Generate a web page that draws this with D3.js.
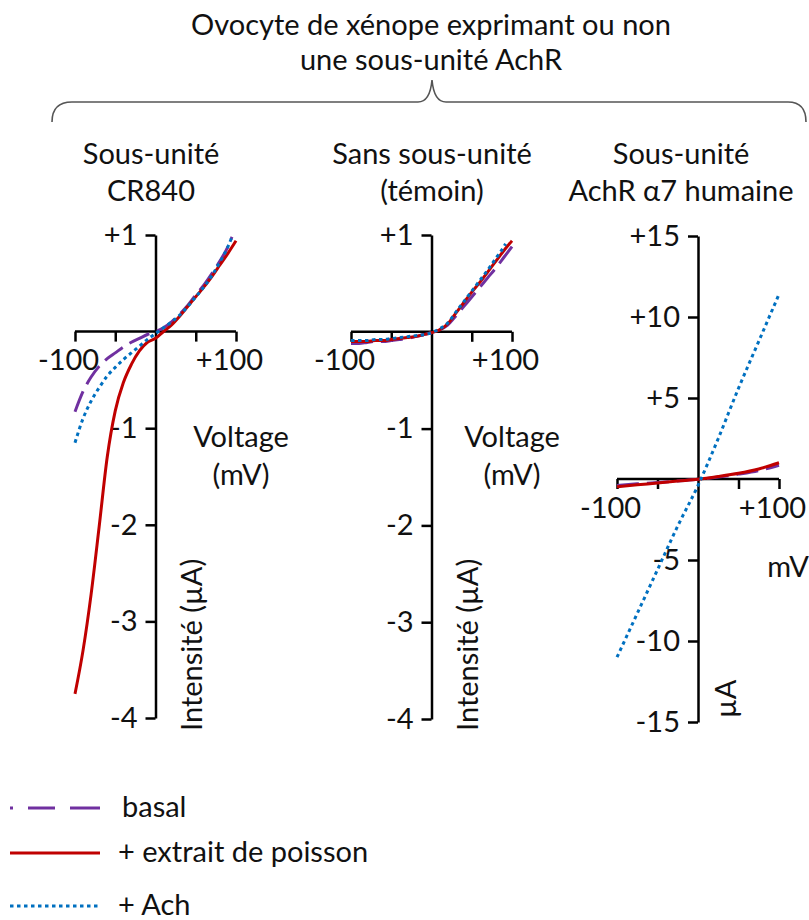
<!DOCTYPE html>
<html>
<head>
<meta charset="utf-8">
<script src="https://cdn.jsdelivr.net/npm/d3@7"></script>
<style>
  body { margin: 0; background: #fff; }
  svg text { font-family: Lato, "Open Sans", sans-serif; fill: #111; }
</style>
</head>
<body>
<div id="chart"></div>
<script>
// tension (mV) et courants (µA)
const mv = [-100, -90, -80, -70, -60, -50, -40, -30, -20, -10, 0, 10, 20, 30, 40, 50, 60, 70, 80, 90, 100];
const mvShort = [-100, -90, -80, -70, -60, -50, -40, -30, -20, -10, 0, 10, 20, 30, 40, 50, 60, 70, 80, 90, 95];
const mvA7 = [-100, -75, -50, -25, 0, 25, 50, 75, 100];

// Sous-unité CR840
const cr840Basal = [-0.83, -0.62, -0.47, -0.36, -0.28, -0.22, -0.16, -0.11, -0.07, -0.03, 0.0, 0.04, 0.1, 0.18, 0.27, 0.38, 0.48, 0.6, 0.73, 0.88, 0.98];
const cr840Poisson = [-3.75, -3.3, -2.72, -2.02, -1.3, -0.82, -0.53, -0.34, -0.2, -0.11, -0.07, 0.0, 0.07, 0.16, 0.26, 0.36, 0.46, 0.57, 0.69, 0.81, 0.94];
const cr840Ach = [-1.15, -0.9, -0.72, -0.58, -0.46, -0.37, -0.29, -0.22, -0.15, -0.08, -0.02, 0.04, 0.1, 0.17, 0.26, 0.36, 0.46, 0.58, 0.72, 0.88, 0.98];

// Sans sous-unité (témoin)
const mvTemoinAch = [-100, -90, -80, -70, -60, -50, -40, -30, -20, -10, 0, 10, 20, 30, 40, 50, 60, 70, 80, 90, 92];
const temoinBasal = [-0.12, -0.12, -0.11, -0.1, -0.1, -0.09, -0.08, -0.07, -0.05, -0.03, -0.01, 0.02, 0.07, 0.16, 0.26, 0.36, 0.46, 0.56, 0.66, 0.77, 0.88];
const temoinPoisson = [-0.1, -0.1, -0.1, -0.09, -0.09, -0.08, -0.07, -0.06, -0.05, -0.03, -0.01, 0.02, 0.08, 0.19, 0.3, 0.41, 0.51, 0.62, 0.73, 0.84, 0.94];
const temoinAch = [-0.09, -0.09, -0.09, -0.08, -0.08, -0.07, -0.06, -0.05, -0.04, -0.03, -0.01, 0.03, 0.09, 0.2, 0.31, 0.42, 0.53, 0.64, 0.76, 0.88, 0.91];

// Sous-unité AchR α7 humaine
const a7Basal = [-0.4, -0.3, -0.22, -0.12, -0.02, 0.12, 0.3, 0.52, 0.85];
const a7Poisson = [-0.48, -0.36, -0.25, -0.13, -0.02, 0.15, 0.35, 0.62, 1.0];
const a7Ach = [-11.0, -8.3, -5.6, -2.9, -0.4, 2.5, 5.6, 8.5, 11.4];

const yTicksSmall = [-4, -3, -2, -1, 0, 1];
const yTicksA7 = [-15, -10, -5, 0, 5, 10, 15];
const xTicks = [-100, -50, 0, 50, 100];

const seriesNames = ["basal", "+ extrait de poisson", "+ Ach"];
const seriesColors = ["#7030a0", "#c00000", "#0070c0"];
const seriesDash = ["22,8", null, "3.5,3.5"];

const width = 809, height = 920;
const svg = d3.select("#chart").append("svg")
  .attr("width", width).attr("height", height);

const fs = 29;

// titre + accolade
const title = svg.append("text").attr("text-anchor", "middle").attr("font-size", fs);
title.append("tspan").attr("x", 431).attr("y", 35).text("Ovocyte de xénope exprimant ou non");
title.append("tspan").attr("x", 431).attr("y", 70).text("une sous-unité AchR");

svg.append("path")
  .attr("d", "M52,122 Q52,102 72,102 L418,102 Q430,102 432,80 Q434,102 446,102 L788,102 Q806,102 806,122")
  .attr("fill", "none").attr("stroke", "#555").attr("stroke-width", 1.6);

const fmtSigned = d => d > 0 ? "+" + d : d < 0 ? "-" + Math.abs(d) : "";

const panels = [
  {
    head: ["Sous-unité", "CR840"], hx: 151,
    x: d3.scaleLinear([-100, 100], [75, 236]),
    y: d3.scaleLinear([-4, 1], [718, 235]),
    yTicks: yTicksSmall,
    series: [[mvShort, cr840Basal], [mv, cr840Poisson], [mvShort, cr840Ach]],
    xLab: { lines: ["Voltage", "(mV)"], x: 241, y: 447 },
    yLab: { text: "Intensité (µA)", x: 202, y: 731 }
  },
  {
    head: ["Sans sous-unité", "(témoin)"], hx: 432,
    x: d3.scaleLinear([-100, 100], [351, 512]),
    y: d3.scaleLinear([-4, 1], [719, 235]),
    yTicks: yTicksSmall,
    series: [[mv, temoinBasal], [mv, temoinPoisson], [mvTemoinAch, temoinAch]],
    xLab: { lines: ["Voltage", "(mV)"], x: 512, y: 447 },
    yLab: { text: "Intensité (µA)", x: 478, y: 731 }
  },
  {
    head: ["Sous-unité", "AchR α7 humaine"], hx: 681,
    x: d3.scaleLinear([-100, 100], [617, 779]),
    y: d3.scaleLinear([-15, 15], [722, 236]),
    yTicks: yTicksA7,
    series: [[mvA7, a7Basal], [mvA7, a7Poisson], [mvA7, a7Ach]],
    xLab: { lines: ["mV"], x: 788, y: 577 },
    yLab: { text: "µA", x: 736, y: 718 }
  }
];

panels.forEach(p => {
  const g = svg.append("g");

  const head = g.append("text").attr("text-anchor", "middle").attr("font-size", fs);
  p.head.forEach((t, i) => head.append("tspan").attr("x", p.hx).attr("y", 164 + i * 37).text(t));

  const x0 = p.x(0), y0 = p.y(0);

  // axe des x
  g.append("g")
    .attr("transform", `translate(0,${y0})`)
    .call(d3.axisBottom(p.x).tickValues(xTicks).tickSize(10).tickSizeOuter(0).tickPadding(8)
      .tickFormat(d => Math.abs(d) === 100 ? fmtSigned(d) : ""))
    .call(a => {
      a.selectAll("text").attr("font-size", fs).attr("fill", "#111").attr("dx", -7);
      a.selectAll("path, line").attr("stroke", "#000").attr("stroke-width", 2.5);
      a.select(".domain").attr("d", `M${p.x(-100)},0H${p.x(100)}`);
      a.selectAll(".tick").filter(d => d === 0).select("line").remove();
    });

  // axe des y
  g.append("g")
    .attr("transform", `translate(${x0},0)`)
    .call(d3.axisLeft(p.y).tickValues(p.yTicks).tickSize(10).tickSizeOuter(0).tickPadding(8)
      .tickFormat(fmtSigned))
    .call(a => {
      a.selectAll("text").attr("font-size", fs).attr("fill", "#111");
      a.selectAll("path, line").attr("stroke", "#000").attr("stroke-width", 2.5);
      a.selectAll(".tick").filter(d => d === 0).select("line").remove();
    });

  // courbes
  const line = d3.line()
    .x(d => p.x(d[0])).y(d => p.y(d[1]))
    .curve(d3.curveMonotoneX);

  p.series.forEach(([vs, is], k) => {
    g.append("path")
      .datum(vs.map((v, i) => [v, is[i]]))
      .attr("d", line)
      .attr("fill", "none")
      .attr("stroke", seriesColors[k])
      .attr("stroke-width", 3)
      .attr("stroke-dasharray", seriesDash[k]);
  });

  // titres d'axes
  const xl = g.append("text").attr("text-anchor", "middle").attr("font-size", fs);
  p.xLab.lines.forEach((t, i) => xl.append("tspan").attr("x", p.xLab.x).attr("y", p.xLab.y + i * 38).text(t));

  g.append("text")
    .attr("transform", `translate(${p.yLab.x},${p.yLab.y}) rotate(-90)`)
    .attr("font-size", fs)
    .text(p.yLab.text);
});

// légende
const legend = svg.append("g");
const legY = [808, 853, 906];
seriesNames.forEach((name, k) => {
  legend.append("line")
    .attr("x1", 10).attr("x2", 100).attr("y1", legY[k]).attr("y2", legY[k])
    .attr("stroke", seriesColors[k]).attr("stroke-width", 3)
    .attr("stroke-dasharray", k === 0 ? "3,15,27,15,30" : seriesDash[k]);
  legend.append("text")
    .attr("x", k === 0 ? 122 : 118).attr("y", legY[k] + 9)
    .attr("font-size", fs)
    .text(name);
});
</script>
</body>
</html>
